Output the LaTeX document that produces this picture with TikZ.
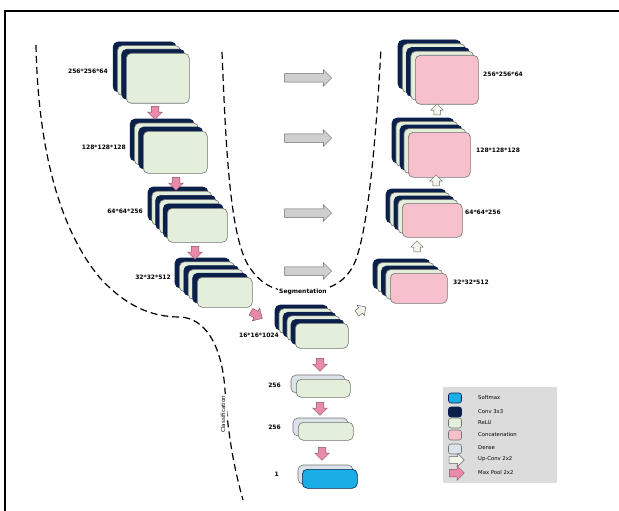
\documentclass[tikz,border=0pt]{standalone}
\usepackage{fontspec}
\setmainfont{DejaVu Sans}
\usetikzlibrary{shapes.arrows}

\definecolor{convnavy}{HTML}{0B1F4B}
\definecolor{relugreen}{HTML}{E3EFDA}
\definecolor{concatpink}{HTML}{F6C1CD}
\definecolor{densegrey}{HTML}{DCE2EA}
\definecolor{softblue}{HTML}{1AADE6}
\definecolor{poolpink}{HTML}{E98AAA}
\definecolor{upwhite}{HTML}{F1F5EA}
\definecolor{skipgrey}{HTML}{CFCFCF}
\definecolor{legendbg}{HTML}{DCDCDC}

\tikzset{
  layer/.style={rounded corners=5pt, line width=0.6pt},
  conv/.style={layer, draw=convnavy, fill=convnavy},
  relu/.style={layer, draw=black!55, fill=relugreen},
  concat/.style={layer, draw=black!55, fill=concatpink},
  dense/.style={layer, draw=black!55, fill=densegrey},
  softmax/.style={layer, draw=convnavy, fill=softblue},
  front/.style={inner sep=0pt, anchor=north west},
  blockarrow/.style={single arrow, inner xsep=0pt, inner ysep=3.5pt, line width=0.5pt,
    single arrow head extend=3.5pt, minimum width=14pt},
  pool/.style={blockarrow, draw=poolpink!60!black, fill=poolpink, minimum height=13pt},
  upconv/.style={blockarrow, draw=black!60, fill=upwhite, minimum height=11pt,
    minimum width=12pt, inner ysep=3pt, single arrow head extend=3pt},
  skip/.style={blockarrow, draw=black!60, fill=skipgrey, minimum height=47pt,
    minimum width=16pt, inner ysep=4pt, single arrow head extend=4pt},
  lbl/.style={font=\bfseries\fontsize{6}{7}\selectfont, inner sep=0pt},
  legtext/.style={font=\fontsize{5.3}{6}\selectfont, inner sep=0pt, anchor=west},
  swatch/.style={inner sep=0pt, minimum width=13pt, minimum height=10pt, rounded corners=2.5pt},
  boundary/.style={line width=1.2pt, dash pattern=on 7pt off 4pt},
  frame/.style={line width=1.3pt}
}

\begin{document}
\begin{tikzpicture}[x=1pt,y=-1pt]
  \useasboundingbox (0,0) rectangle (619,511);
  \draw[frame] (5,520) -- (5,11) -- (625,11);

  % dashed region borders
  \draw[boundary] (36,45) .. controls (38,150) and (60,230) .. (100,278)
    .. controls (125,305) and (150,317) .. (180,317)
    .. controls (205,318) and (222,345) .. (225,390)
    .. controls (228,440) and (236,475) .. (243,500);
  \draw[boundary] (222,52) .. controls (226,150) and (230,240) .. (250,268)
    .. controls (262,285) and (275,292) .. (300,292)
    .. controls (325,292) and (345,285) .. (355,262)
    .. controls (368,230) and (376,140) .. (381,48);
  \node[lbl, fill=white, inner sep=1.5pt] (seg) at (303,292) {Segmentation};
  \node[font=\fontsize{5.6}{6}\selectfont, rotate=90, fill=white, inner sep=1.5pt] (cls) at (223,414) {Classification};

  % encoder
  \foreach \k/\s in {3/conv,2/relu,1/conv}
    \draw[\s] (126-4.3*\k,53-3.7*\k) rectangle ++(63,50);
  \node[relu, front, minimum width=63pt, minimum height=50pt] (enc1) at (126,53) {};
  \foreach \k/\s in {3/conv,2/relu,1/conv}
    \draw[\s] (143-4.3*\k,131-4*\k) rectangle ++(64,42);
  \node[relu, front, minimum width=64pt, minimum height=42pt] (enc2) at (143,131) {};
  \foreach \k/\s in {5/conv,4/relu,3/conv,2/relu,1/conv}
    \draw[\s] (167-3.8*\k,208-4.2*\k) rectangle ++(60,34);
  \node[relu, front, minimum width=60pt, minimum height=34pt] (enc3) at (167,208) {};
  \foreach \k/\s in {5/conv,4/relu,3/conv,2/relu,1/conv}
    \draw[\s] (197-4.4*\k,277-3.8*\k) rectangle ++(55,30);
  \node[relu, front, minimum width=55pt, minimum height=30pt] (enc4) at (197,277) {};

  % bottleneck and dense head
  \foreach \k/\s in {5/conv,4/relu,3/conv,2/relu,1/conv}
    \draw[\s] (295-4*\k,323-3.6*\k) rectangle ++(53,25);
  \node[relu, front, minimum width=53pt, minimum height=25pt] (bott) at (295,323) {};
  \draw[dense] (291,375) rectangle ++(54,18);
  \node[relu, front, minimum width=54pt, minimum height=18pt] (fc1) at (296,379) {};
  \draw[dense] (293,418) rectangle ++(55,18);
  \node[relu, front, minimum width=55pt, minimum height=18pt] (fc2) at (298,422) {};
  \draw[dense] (298,465) rectangle ++(55,19);
  \node[softmax, front, minimum width=55pt, minimum height=19pt] (out) at (302,469) {};

  % decoder
  \foreach \k/\s in {4/conv,3/relu,2/conv,1/relu}
    \draw[\s] (415-4.25*\k,55-3.75*\k) rectangle ++(63,49);
  \node[concat, front, minimum width=63pt, minimum height=49pt] (dec1) at (415,55) {};
  \foreach \k/\s in {4/conv,3/relu,2/conv,1/relu}
    \draw[\s] (408-4*\k,132-3.5*\k) rectangle ++(62,45);
  \node[concat, front, minimum width=62pt, minimum height=45pt] (dec2) at (408,132) {};
  \foreach \k/\s in {4/conv,3/relu,2/conv,1/relu}
    \draw[\s] (402-4*\k,203-3.5*\k) rectangle ++(60,34);
  \node[concat, front, minimum width=60pt, minimum height=34pt] (dec3) at (402,203) {};
  \foreach \k/\s in {4/conv,3/relu,2/conv,1/relu}
    \draw[\s] (390-4.25*\k,273-3.5*\k) rectangle ++(57,30);
  \node[concat, front, minimum width=57pt, minimum height=30pt] (dec4) at (390,273) {};

  % sizes
  \node[lbl, anchor=east] (lenc1) at (108,71) {256*256*64};
  \node[lbl, anchor=east] (lenc2) at (126,147) {128*128*128};
  \node[lbl, anchor=east] (lenc3) at (143,211) {64*64*256};
  \node[lbl, anchor=east] (lenc4) at (171,277) {32*32*512};
  \node[lbl, anchor=east] (lbott) at (279,335) {16*16*1024};
  \node[lbl, anchor=east] (lfc1) at (281,385) {256};
  \node[lbl, anchor=east] (lfc2) at (281,427) {256};
  \node[lbl, anchor=east] (lout) at (279,474) {1};
  \node[lbl, anchor=west] (ldec1) at (483,74) {256*256*64};
  \node[lbl, anchor=west] (ldec2) at (476,150) {128*128*128};
  \node[lbl, anchor=west] (ldec3) at (465,212) {64*64*256};
  \node[lbl, anchor=west] (ldec4) at (453,282) {32*32*512};

  % max pool
  \node[pool, rotate=-90] (p1) at (155,111) {};
  \node[pool, rotate=-90] (p2) at (176,182) {};
  \node[pool, rotate=-90] (p3) at (195,251) {};
  \node[pool, rotate=-30] (p4) at (255,314) {};
  \node[pool, rotate=-90] (p5) at (320,363) {};
  \node[pool, rotate=-90] (p6) at (320,407) {};
  \node[pool, rotate=-90] (p7) at (322,452) {};

  % up-conv
  \node[upconv, rotate=35] (u0) at (360,311) {};
  \node[upconv, rotate=90] (u1) at (417,248) {};
  \node[upconv, rotate=90] (u2) at (436,182) {};
  \node[upconv, rotate=90] (u3) at (437,111) {};

  % skip connections
  \node[skip] (s1) at (306,78) {};
  \node[skip] (s2) at (306,138) {};
  \node[skip] (s3) at (306,213) {};
  \node[skip] (s4) at (306,271) {};

  % legend
  \node[fill=legendbg, inner sep=0pt, anchor=north west, minimum width=114pt, minimum height=96pt] (legend) at (443,387) {};
  \node[softmax, swatch] (kout) at (455,398) {};
  \node[conv, swatch] (kconv) at (455,412) {};
  \node[relu, swatch] (krelu) at (455,423) {};
  \node[concat, swatch] (kcat) at (455,435) {};
  \node[dense, swatch] (kfc) at (455,449) {};
  \node[upconv, minimum height=15pt, minimum width=13pt] (kup) at (455,460) {};
  \node[pool, minimum height=15pt] (kpool) at (455,473) {};
  \node[legtext] (tout) at (478,398) {Softmax};
  \node[legtext] (tconv) at (478,412) {Conv 3x3};
  \node[legtext] (trelu) at (478,423) {ReLU};
  \node[legtext] (tcat) at (478,435) {Concatenation};
  \node[legtext] (tfc) at (478,448) {Dense};
  \node[legtext] (tup) at (478,459) {Up-Conv 2x2};
  \node[legtext] (tpool) at (478,473) {Max Pool 2x2};
\end{tikzpicture}
\end{document}
